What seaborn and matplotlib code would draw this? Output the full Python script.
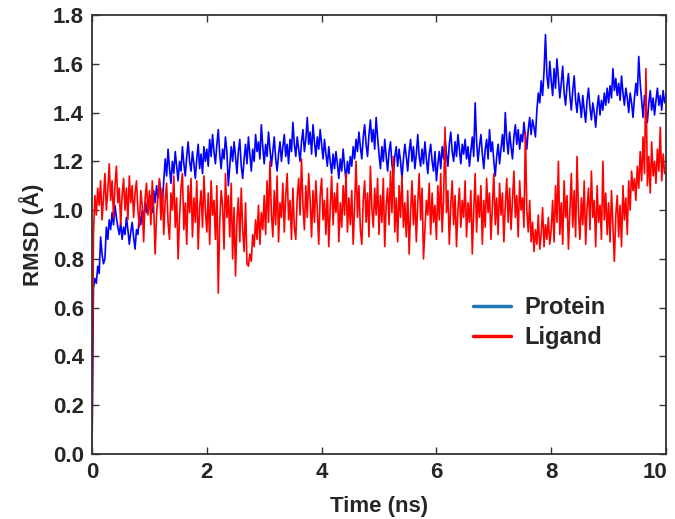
import matplotlib
matplotlib.use("Agg")
import matplotlib.pyplot as plt
import matplotlib.transforms as mtransforms
import seaborn as sns
import pandas as pd
import numpy as np
from matplotlib.lines import Line2D

step_ns = 0.025

protein_rmsd = [
    0.00, 0.68, 0.72, 0.70, 0.77, 0.74, 0.89, 0.82, 0.78, 0.80, 0.93, 0.88, 0.96, 0.92, 0.99, 0.94, 1.02, 0.97, 0.93, 0.90,
    0.95, 0.88, 0.93, 0.90, 0.97, 0.92, 0.86, 0.91, 0.95, 0.89, 0.84, 0.92, 0.90, 0.98, 0.94, 1.00, 0.96, 1.03, 0.99, 1.05,
    1.01, 1.06, 0.99, 1.08, 1.03, 1.10, 1.05, 1.12, 1.07, 1.02, 1.12, 1.21, 1.14, 1.25, 1.17, 1.11, 1.20, 1.15, 1.24, 1.18,
    1.12, 1.20, 1.16, 1.26, 1.19, 1.14, 1.22, 1.28, 1.20, 1.16, 1.24, 1.19, 1.13, 1.21, 1.27, 1.17, 1.23, 1.15, 1.26, 1.20,
    1.25, 1.18, 1.29, 1.22, 1.31, 1.24, 1.19, 1.27, 1.33, 1.23, 1.17, 1.25, 1.21, 1.30, 1.24, 1.10, 1.18, 1.26, 1.20, 1.28,
    1.22, 1.15, 1.24, 1.29, 1.18, 1.13, 1.21, 1.27, 1.19, 1.30, 1.23, 1.16, 1.25, 1.20, 1.31, 1.24, 1.28, 1.21, 1.35, 1.26,
    1.19, 1.27, 1.22, 1.32, 1.25, 1.18, 1.24, 1.30, 1.21, 1.16, 1.23, 1.28, 1.20, 1.26, 1.31, 1.22, 1.27, 1.19, 1.29, 1.24,
    1.36, 1.27, 1.22, 1.30, 1.25, 1.20, 1.28, 1.33, 1.24, 1.29, 1.38, 1.27, 1.32, 1.23, 1.35, 1.28, 1.22, 1.30, 1.25, 1.33,
    1.27, 1.21, 1.29, 1.23, 1.18, 1.26, 1.20, 1.15, 1.23, 1.17, 1.24, 1.19, 1.13, 1.21, 1.16, 1.25, 1.18, 1.12, 1.20, 1.15,
    1.22, 1.18, 1.26, 1.21, 1.29, 1.24, 1.32, 1.26, 1.21, 1.30, 1.35, 1.27, 1.22, 1.31, 1.37, 1.28, 1.33, 1.25, 1.38, 1.30,
    1.23, 1.17, 1.26, 1.20, 1.29, 1.22, 1.16, 1.24, 1.28, 1.19, 1.14, 1.22, 1.26, 1.18, 1.25, 1.20, 1.13, 1.21, 1.27, 1.22,
    1.16, 1.24, 1.29, 1.20, 1.26, 1.17, 1.23, 1.31, 1.22, 1.18, 1.25, 1.19, 1.28, 1.21, 1.15, 1.23, 1.27, 1.20, 1.16, 1.24,
    1.12, 1.19, 1.24, 1.17, 1.26, 1.21, 1.30, 1.23, 1.18, 1.27, 1.32, 1.24, 1.20, 1.28, 1.22, 1.31, 1.25, 1.19, 1.27, 1.23,
    1.29, 1.21, 1.26, 1.18, 1.24, 1.30, 1.22, 1.44, 1.28, 1.20, 1.26, 1.31, 1.23, 1.17, 1.25, 1.29, 1.21, 1.33, 1.24, 1.28,
    1.20, 1.14, 1.22, 1.27, 1.19, 1.25, 1.31, 1.24, 1.40, 1.29, 1.23, 1.32, 1.26, 1.21, 1.30, 1.35, 1.27, 1.33, 1.25, 1.31,
    1.28, 1.36, 1.30, 1.25, 1.33, 1.38, 1.31, 1.37, 1.34, 1.30, 1.41, 1.48, 1.44, 1.53, 1.47, 1.57, 1.72, 1.55, 1.50, 1.61,
    1.53, 1.47, 1.58, 1.50, 1.62, 1.54, 1.46, 1.52, 1.59, 1.48, 1.43, 1.51, 1.56, 1.47, 1.41, 1.49, 1.55, 1.45, 1.40, 1.48,
    1.44, 1.38, 1.47, 1.41, 1.36, 1.45, 1.50, 1.42, 1.37, 1.44, 1.40, 1.34, 1.42, 1.47, 1.39, 1.45, 1.41, 1.48, 1.43, 1.50,
    1.44, 1.51, 1.46, 1.58, 1.49, 1.54, 1.47, 1.52, 1.45, 1.55, 1.48, 1.43, 1.50, 1.46, 1.40, 1.48, 1.44, 1.38, 1.46, 1.52,
    1.47, 1.63, 1.52, 1.45, 1.38, 1.47, 1.42, 1.36, 1.44, 1.49, 1.41, 1.46, 1.39, 1.45, 1.50, 1.43, 1.47, 1.41, 1.49, 1.44,
    1.47,
]

ligand_rmsd = [
    0.00, 0.90, 1.06, 0.98, 1.09, 1.02, 1.12, 0.96, 1.05, 1.15, 1.00, 1.08, 1.19, 1.04, 1.12, 0.97, 1.10, 1.18, 1.03, 1.09,
    0.94, 1.06, 1.13, 1.00, 1.09, 0.96, 1.14, 1.03, 1.10, 0.97, 1.07, 1.12, 1.00, 0.93, 1.08, 1.02, 0.87, 1.05, 1.11, 0.98,
    1.08, 0.94, 1.12, 1.01, 0.82, 0.98, 1.06, 1.13, 0.96, 1.09, 0.90, 1.04, 1.11, 0.95, 0.88, 1.07, 1.00, 1.14, 0.93, 1.05,
    0.80, 0.97, 1.09, 1.15, 0.92, 1.03, 0.86, 1.10, 0.99, 1.13, 0.89, 1.05, 0.95, 1.12, 0.84, 1.01, 1.08, 0.93, 1.14, 1.00,
    0.91, 1.07, 0.86, 1.12, 0.98, 1.04, 0.88, 1.10, 0.66, 0.95, 1.08, 1.02, 0.84, 1.15, 0.97, 1.06, 0.89, 1.11, 0.80, 1.01,
    0.73, 0.96, 1.05, 0.87, 1.09, 0.92, 0.83, 1.03, 0.78, 0.77, 0.82, 0.79, 0.90, 0.85, 0.96, 0.88, 1.02, 0.86, 0.99, 0.92,
    1.06, 0.90, 1.12, 0.95, 1.20, 0.99, 0.89, 1.08, 0.94, 1.14, 0.87, 1.03, 0.97, 1.11, 0.91, 1.06, 1.15, 0.96, 1.04, 0.88,
    1.09, 0.93, 0.88, 1.05, 1.13, 0.98, 1.21, 1.02, 0.92, 1.10, 0.97, 1.15, 1.04, 0.89, 1.08, 0.95, 1.12, 1.00, 0.86, 1.06,
    1.13, 0.96, 1.04, 0.90, 1.09, 0.85, 1.01, 1.14, 0.94, 1.07, 0.99, 1.11, 0.87, 1.03, 0.93, 1.10, 0.98, 1.15, 0.91, 1.05,
    0.94, 1.08, 0.86, 1.02, 1.20, 0.97, 1.10, 0.92, 0.86, 1.04, 1.12, 0.95, 1.07, 0.89, 1.18, 1.01, 0.93, 1.09, 0.98, 1.13,
    0.90, 1.06, 0.95, 1.13, 0.85, 1.02, 1.09, 0.94, 1.16, 0.99, 1.22, 0.91, 1.05, 0.87, 1.10, 0.97, 1.14, 0.93, 1.03, 0.89,
    1.08, 0.82, 0.99, 1.12, 0.94, 1.06, 0.87, 1.03, 1.15, 0.96, 1.09, 0.80, 0.92, 1.04, 0.98, 1.11, 0.90, 1.07, 0.95, 1.02,
    0.88, 1.10, 0.96, 1.15, 0.91, 1.05, 1.34, 0.99, 1.08, 0.86, 1.02, 1.12, 0.94, 1.06, 0.85, 1.00, 1.09, 0.93, 1.04, 0.97,
    1.12, 0.89, 1.03, 0.95, 1.08, 0.82, 1.00, 1.15, 0.91, 1.06, 0.97, 1.10, 0.86, 1.04, 0.93, 1.13, 0.99, 1.07, 0.88, 1.02,
    1.15, 0.94, 1.05, 0.90, 1.11, 0.98, 1.07, 0.87, 1.02, 1.13, 0.95, 1.09, 0.92, 1.04, 1.16, 0.97, 1.06, 0.89, 1.12, 1.00,
    1.05, 0.93, 1.32, 1.00, 0.91, 1.04, 0.87, 0.95, 0.83, 0.92, 0.86, 0.98, 0.84, 0.90, 1.01, 0.85, 0.94, 0.88, 0.97, 0.86,
    0.92, 1.04, 0.87, 1.10, 0.95, 1.20, 0.90, 1.03, 0.86, 1.12, 0.97, 1.06, 0.84, 1.00, 1.15, 0.93, 1.08, 0.89, 1.22, 0.99,
    0.88, 1.05, 0.94, 1.12, 0.86, 1.01, 1.09, 0.92, 1.16, 0.97, 1.04, 0.85, 1.10, 0.95, 1.02, 0.88, 1.20, 0.96, 1.07, 0.90,
    1.03, 0.87, 1.08, 0.94, 0.79, 0.98, 1.06, 0.89, 1.02, 0.85, 1.10, 0.96, 1.05, 0.90, 1.12, 1.00, 1.16, 1.08, 1.13, 1.04,
    1.18, 1.09, 1.24, 1.12, 1.30, 1.15, 1.58, 1.10, 1.22, 1.07, 1.28, 1.14, 1.20, 1.11, 1.25, 1.16, 1.34, 1.12, 1.23, 1.15,
    1.15,
]

series_names = ["Protein", "Ligand"]
line_colors = {"Protein": "blue", "Ligand": "red"}
legend_colors = {"Protein": "#1f77b4", "Ligand": "red"}

protein_df = pd.DataFrame({"time": np.arange(len(protein_rmsd)) * step_ns,
                           "rmsd": protein_rmsd, "series": "Protein"})
ligand_df = pd.DataFrame({"time": np.arange(len(ligand_rmsd)) * step_ns,
                          "rmsd": ligand_rmsd, "series": "Ligand"})
df = pd.concat([protein_df, ligand_df], ignore_index=True)

sns.set_style("ticks")
plt.rcParams["font.family"] = ["Liberation Sans", "DejaVu Sans"]
plt.rcParams["font.weight"] = "bold"

fig, ax = plt.subplots(figsize=(6.75, 5.19), dpi=100)
fig.subplots_adjust(left=0.1363, right=0.9867, bottom=0.1252, top=0.9711)

sns.lineplot(data=df, x="time", y="rmsd", hue="series", palette=line_colors,
             hue_order=series_names, linewidth=1.2, legend=False, ax=ax)

ax.set_xlim(0, 10)
ax.set_ylim(0, 1.8)
ax.set_xticks([0, 2, 4, 6, 8, 10])
yt = np.arange(0, 1.81, 0.2)
ax.set_yticks(yt)
ax.set_yticklabels([f"{v:.1f}" for v in yt])
ax.tick_params(direction="in", length=5, width=1, top=True, right=True,
               labelsize=16, color="#333333", pad=6)
for lab in ax.get_xticklabels() + ax.get_yticklabels():
    lab.set_fontweight("bold")
# last x label sits a bit left so it stays inside the figure
last = ax.get_xticklabels()[-1]
last.set_transform(last.get_transform() + mtransforms.ScaledTranslation(-8 / 72, 0, fig.dpi_scale_trans))
for sp in ax.spines.values():
    sp.set_color("#333333")
    sp.set_linewidth(1.3)

ax.set_xlabel("Time (ns)", fontsize=16, fontweight="bold", labelpad=9)
ax.set_ylabel("RMSD (Å)", fontsize=16, fontweight="bold", labelpad=6)

handles = [Line2D([0], [0], color=legend_colors[s], linewidth=2.5) for s in series_names]
ax.legend(handles, series_names, loc="upper left", bbox_to_anchor=(0.664, 0.36),
          frameon=False, prop={"weight": "bold", "size": 17}, borderpad=0,
          borderaxespad=0, handlelength=1.6, handletextpad=0.55, labelspacing=0.3)

fig.savefig("out.png", dpi=100)
